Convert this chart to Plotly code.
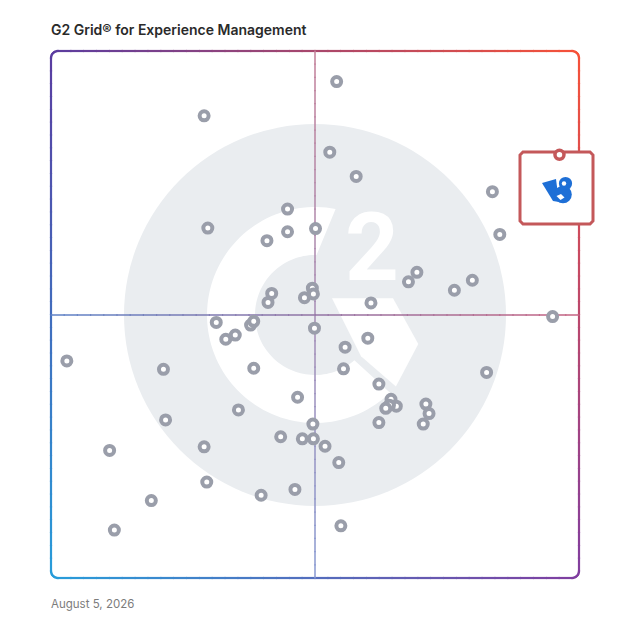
import math
import plotly.graph_objects as go

# G2 grid: satisfaction (x) vs market presence (y), both 0-100
satisfaction = [29.0, 29.7, 44.8, 44.8, 40.9, 50.1, 41.8, 41.1, 48.0, 49.5, 49.7,
                54.1, 52.8, 57.8, 83.6, 85.0, 69.3, 67.7, 79.8, 76.4, 60.6, 95.0,
                31.3, 33.1, 34.9, 37.8, 38.4, 49.9, 3.0, 21.3, 38.4, 46.7, 35.5,
                21.7, 49.6, 47.6, 49.7, 43.5, 29.0, 11.1, 29.5, 46.2, 39.8, 19.0, 12.0,
                60.0, 55.7, 55.4, 82.5, 62.1, 64.4, 65.4, 64.1, 63.4, 71.0, 71.6,
                70.5, 62.1, 51.9, 54.5, 54.9]
market_presence = [87.7, 66.4, 70.0, 65.7, 64.0, 66.3, 54.0, 52.3, 53.2, 55.0, 53.9,
                   94.2, 80.8, 76.2, 73.3, 65.2, 58.0, 56.2, 56.5, 54.6, 52.2, 49.6,
                   48.5, 45.3, 46.1, 48.0, 48.7, 47.4, 41.2, 39.6, 39.8, 34.3, 31.9,
                   30.0, 29.2, 26.4, 26.4, 26.8, 24.9, 24.2, 18.2, 16.8, 15.7, 14.7, 9.1,
                   45.5, 43.8, 39.7, 39.0, 36.8, 33.9, 32.6, 32.8, 32.2, 33.0, 31.2,
                   29.2, 29.5, 25.0, 21.9, 9.9]

featured_x = [96.3]
featured_y = [80.3]

title_text = "G2 Grid® for Experience Management"
date_text = "August 5, 2026"

# plot box in page pixels (page has an 8px body margin)
OFF = 8
FIG = 620
L, T, R, B = 51, 51, 579, 578
CX, CY = 315, 315


def to_paper(x, y):
    return (x - L) / (R - L), (B - y) / (B - T)


def path(pts, close=True):
    s = ""
    for i, (x, y) in enumerate(pts):
        u, v = to_paper(x, y)
        s += ("M" if i == 0 else "L") + "%.5f,%.5f" % (u, v)
    return s + ("Z" if close else "")


TL = (90, 60, 160)
TR = (247, 82, 56)
BL = (40, 157, 218)
BR = (128, 62, 160)


def grad(x, y, fade=0.0):
    u = (x - L) / (R - L)
    v = (y - T) / (B - T)
    c = [(1 - u) * (1 - v) * a + u * (1 - v) * b + (1 - u) * v * cc + u * v * d
         for a, b, cc, d in zip(TL, TR, BL, BR)]
    c = [k + (255 - k) * fade for k in c]
    return "rgb(%d,%d,%d)" % tuple(round(k) for k in c)


shapes = []

# watermark: grey disc with white G2 mark
u0, v0 = to_paper(CX - 191, CY + 191)
u1, v1 = to_paper(CX + 191, CY - 191)
shapes.append(dict(type="circle", xref="paper", yref="paper", x0=u0, y0=v0, x1=u1, y1=v1,
                   fillcolor="#EAEDF0", line=dict(width=0), layer="below"))

ring = []
a = 79.0
while a <= 314.5:
    ring.append((CX + 108 * math.cos(math.radians(a)), CY - 108 * math.sin(math.radians(a))))
    a += 2.5
a = 311.0
while a >= 88.0:
    ring.append((CX + 60 * math.cos(math.radians(a)), CY - 60 * math.sin(math.radians(a))))
    a -= 2.5
shapes.append(dict(type="path", xref="paper", yref="paper", path=path(ring),
                   fillcolor="white", line=dict(width=0), layer="below"))

chevron = [(332, 298.3), (393, 298.3), (418.3, 344), (395.9, 386.6), (361, 356.3)]
shapes.append(dict(type="path", xref="paper", yref="paper", path=path(chevron),
                   fillcolor="white", line=dict(width=0), layer="below"))

# gradient frame, drawn as short segments
rad = 7
pts = []
n = 40
for i in range(n + 1):
    pts.append((L + rad + (R - L - 2 * rad) * i / n, T))
for i in range(1, 9):
    a = math.radians(-90 + 90 * i / 8)
    pts.append((R - rad + rad * math.cos(a), T + rad + rad * math.sin(a)))
for i in range(1, n + 1):
    pts.append((R, T + rad + (B - T - 2 * rad) * i / n))
for i in range(1, 9):
    a = math.radians(90 * i / 8)
    pts.append((R - rad + rad * math.cos(a), B - rad + rad * math.sin(a)))
for i in range(1, n + 1):
    pts.append((R - rad - (R - L - 2 * rad) * i / n, B))
for i in range(1, 9):
    a = math.radians(90 + 90 * i / 8)
    pts.append((L + rad + rad * math.cos(a), B - rad + rad * math.sin(a)))
for i in range(1, n + 1):
    pts.append((L, B - rad - (B - T - 2 * rad) * i / n))
for i in range(1, 9):
    a = math.radians(180 + 90 * i / 8)
    pts.append((L + rad + rad * math.cos(a), T + rad + rad * math.sin(a)))


def seg(p, q, width, fade=0.0, ext=0.6):
    dx, dy = q[0] - p[0], q[1] - p[1]
    ln = math.hypot(dx, dy) or 1
    ex, ey = dx / ln * ext, dy / ln * ext
    col = grad((p[0] + q[0]) / 2, (p[1] + q[1]) / 2, fade)
    return dict(type="path", xref="paper", yref="paper",
                path=path([(p[0] - ex, p[1] - ey), (q[0] + ex, q[1] + ey)], close=False),
                line=dict(color=col, width=width), layer="below")


for i in range(len(pts) - 1):
    shapes.append(seg(pts[i], pts[i + 1], 2.2))

# quadrant dividers
for i in range(n):
    y0 = T + (B - T) * i / n
    y1 = T + (B - T) * (i + 1) / n
    shapes.append(seg((CX, y0), (CX, y1), 1.5, 0.3))
    x0 = L + (R - L) * i / n
    x1 = L + (R - L) * (i + 1) / n
    shapes.append(seg((x0, CY), (x1, CY), 1.5, 0.15))

# callout box for the featured product
bx0, by0, bx1, by1, br = 520, 152, 593, 224, 3
box = [(bx0 + br, by0), (bx1 - br, by0), (bx1, by0 + br), (bx1, by1 - br),
       (bx1 - br, by1), (bx0 + br, by1), (bx0, by1 - br), (bx0, by0 + br)]
shapes.append(dict(type="path", xref="paper", yref="paper", path=path(box),
                   fillcolor="white", line=dict(color="#C4585A", width=3), layer="below"))

# bird logo
blue = "#1E6FD6"


def circ(x, y, r, col):
    a0, b0 = to_paper(x - r, y + r)
    a1, b1 = to_paper(x + r, y - r)
    return dict(type="circle", xref="paper", yref="paper", x0=a0, y0=b0, x1=a1, y1=b1,
                fillcolor=col, line=dict(width=0), layer="below")


shapes.append(dict(type="path", xref="paper", yref="paper",
                   path=path([(542, 183), (556, 179), (559, 202), (553, 201)]),
                   fillcolor=blue, line=dict(width=0), layer="below"))
shapes.append(circ(563, 194.5, 8.8, blue))
shapes.append(circ(565.5, 183.5, 6.6, blue))
shapes.append(circ(564, 183.5, 2.2, "white"))
shapes.append(dict(type="path", xref="paper", yref="paper",
                   path=path([(556.5, 196), (561, 194), (564.5, 197.5), (560.5, 200)]),
                   fillcolor="white", line=dict(width=0), layer="below"))

fig = go.Figure()
fig.add_trace(go.Scatter(x=satisfaction, y=market_presence, mode="markers",
                         marker=dict(size=9, color="white", line=dict(color="#9A9EAA", width=4)),
                         cliponaxis=False, hoverinfo="x+y", showlegend=False))
fig.add_trace(go.Scatter(x=featured_x, y=featured_y, mode="markers",
                         marker=dict(size=9, color="white", line=dict(color="#C4585A", width=3.5)),
                         cliponaxis=False, hoverinfo="x+y", showlegend=False))

tu, tv = to_paper(49, 29)
du, dv = to_paper(49, 604)
su, sv = to_paper(372, 248)
annotations = [
    dict(text=title_text, x=tu, y=tv, xref="paper", yref="paper", xanchor="left",
         yanchor="middle", showarrow=False,
         font=dict(family="Inter", size=14, color="#2A2A2A", weight=600)),
    dict(text=date_text, x=du, y=dv, xref="paper", yref="paper", xanchor="left",
         yanchor="middle", showarrow=False,
         font=dict(family="Inter", size=11.5, color="#7C7C7C")),
    dict(text="2", x=su, y=sv, xref="paper", yref="paper", xanchor="center",
         yanchor="middle", showarrow=False,
         font=dict(family="Roboto", size=94, color="white", weight=700)),
]

fig.update_layout(
    width=FIG, height=FIG,
    margin=dict(l=L - OFF, r=FIG - (R - OFF), t=T - OFF, b=FIG - (B - OFF)),
    paper_bgcolor="white", plot_bgcolor="rgba(0,0,0,0)",
    xaxis=dict(range=[0, 100], visible=False, fixedrange=True),
    yaxis=dict(range=[0, 100], visible=False, fixedrange=True),
    shapes=shapes, annotations=annotations,
)

fig.write_html("out.html")
